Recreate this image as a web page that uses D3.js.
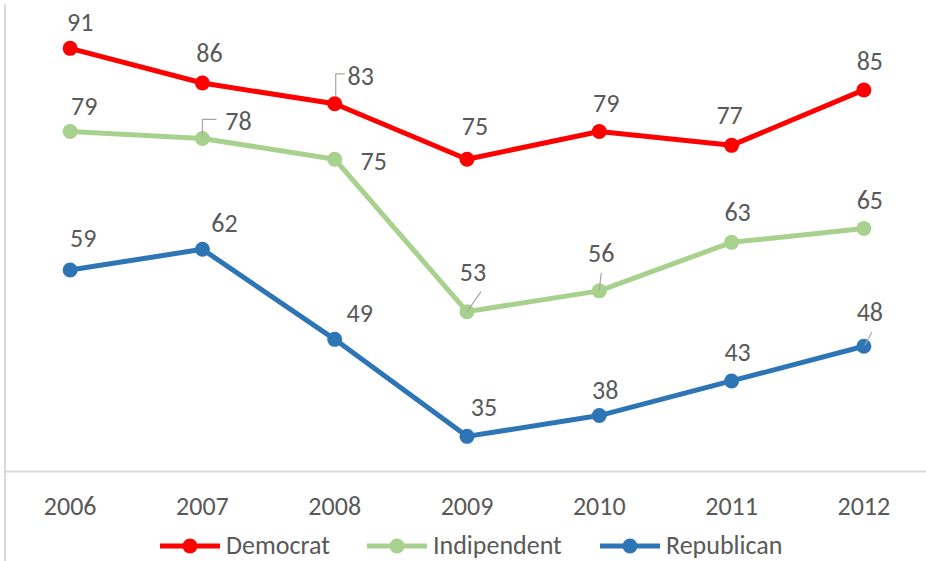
<!DOCTYPE html>
<html>
<head>
<meta charset="utf-8">
<script src="https://cdn.jsdelivr.net/npm/d3@7"></script>
<style>
  html, body { margin: 0; padding: 0; background: #fff; }
  svg { display: block; }
  text { font-family: Carlito, Calibri, "Open Sans", sans-serif; fill: #595959; }
</style>
</head>
<body>
<svg id="chart" width="926" height="561"></svg>
<script>
// Survey share by party, 2006–2012
const years = ["2006", "2007", "2008", "2009", "2010", "2011", "2012"];
const democrat = [91, 86, 83, 75, 79, 77, 85];
const indipendent = [79, 78, 75, 53, 56, 63, 65];
const republican = [59, 62, 49, 35, 38, 43, 48];
const seriesNames = ["Democrat", "Indipendent", "Republican"];

const series = [
  { name: seriesNames[0], values: democrat, color: "#FF0000" },
  { name: seriesNames[1], values: indipendent, color: "#A9D18E" },
  { name: seriesNames[2], values: republican, color: "#2E75B6" }
];

// Data-label placement relative to each point: [dx, dy] of the label centre
const labelOffsets = {
  Democrat:    [[10, -26], [7, -30], [26, -28], [8, -33], [7, -29], [-2, -30], [6, -29]],
  Indipendent: [[14, -26], [36, -17], [39, 2], [6, -40], [2, -38], [6, -30], [6, -29]],
  Republican:  [[13, -32], [22, -26], [25, -26], [17, -29], [6, -26], [6, -29], [6, -34]]
};

// Leader lines for labels that sit away from their point
const leaders = [
  { s: "Democrat", i: 2, kind: "elbow", pts: [[1, -8], [1, -30], [10, -30]] },
  { s: "Indipendent", i: 1, kind: "elbow", pts: [[0, -2], [0, -19], [14, -19]] },
  { s: "Indipendent", i: 3, kind: "line", pts: [[0, 0], [14, -20]] },
  { s: "Indipendent", i: 4, kind: "line", pts: [[0, -1], [2, -18]] },
  { s: "Republican", i: 6, kind: "line", pts: [[1, -1], [8, -14]] }
];

const W = 926, H = 561;
const FONT = 26;
const svg = d3.select("#chart");

const x = d3.scaleBand().domain(years).range([4, 930]).padding(0);
const cx = d => x(d) + x.bandwidth() / 2;
const y = d3.scaleLinear().domain([30, 100]).range([471, -14]);

// Chart frame: left edge and category axis line
svg.append("line")
  .attr("x1", 5).attr("x2", 5).attr("y1", 4).attr("y2", H)
  .attr("stroke", "#D9D9D9").attr("stroke-width", 2);

const xAxis = d3.axisBottom(x).tickSize(0).tickPadding(26);
const gx = svg.append("g").attr("transform", `translate(0,${y(30)})`).call(xAxis);
gx.select(".domain").attr("stroke", "#D9D9D9").attr("stroke-width", 2);
gx.selectAll(".tick text")
  .attr("font-size", FONT)
  .attr("fill", "#595959")
  .style("font-family", 'Carlito, Calibri, "Open Sans", sans-serif');

const line = d3.line().x((d, i) => cx(years[i])).y(d => y(d));

const gSeries = svg.append("g");
series.forEach(s => {
  gSeries.append("path")
    .datum(s.values)
    .attr("d", line)
    .attr("fill", "none")
    .attr("stroke", s.color)
    .attr("stroke-width", 5)
    .attr("stroke-linejoin", "round");
  gSeries.selectAll(null)
    .data(s.values)
    .join("circle")
    .attr("cx", (d, i) => cx(years[i]))
    .attr("cy", d => y(d))
    .attr("r", 7.5)
    .attr("fill", s.color);
});

// Leader lines
const gLead = svg.append("g");
leaders.forEach(l => {
  const s = series.find(q => q.name === l.s);
  const px = cx(years[l.i]), py = y(s.values[l.i]);
  gLead.append("path")
    .attr("d", d3.line()(l.pts.map(p => [px + p[0], py + p[1]])))
    .attr("fill", "none")
    .attr("stroke", "#A6A6A6")
    .attr("stroke-width", 1.2);
});

// Data labels
const gLab = svg.append("g");
series.forEach(s => {
  gLab.selectAll(null)
    .data(s.values)
    .join("text")
    .attr("x", (d, i) => cx(years[i]) + labelOffsets[s.name][i][0])
    .attr("y", (d, i) => y(d) + labelOffsets[s.name][i][1])
    .attr("text-anchor", "middle")
    .attr("dominant-baseline", "central")
    .attr("font-size", FONT)
    .text(d => d);
});

// Legend
const legendX = [160, 367, 600];
const legendY = 546;
const gLeg = svg.append("g");
series.forEach((s, k) => {
  const g = gLeg.append("g").attr("transform", `translate(${legendX[k]},${legendY})`);
  g.append("line").attr("x1", 0).attr("x2", 60).attr("y1", 0).attr("y2", 0)
    .attr("stroke", s.color).attr("stroke-width", 5);
  g.append("circle").attr("cx", 30).attr("cy", 0).attr("r", 7.5).attr("fill", s.color);
  g.append("text").attr("x", 66).attr("y", 8)
    .attr("font-size", FONT)
    .text(s.name);
});
</script>
</body>
</html>
